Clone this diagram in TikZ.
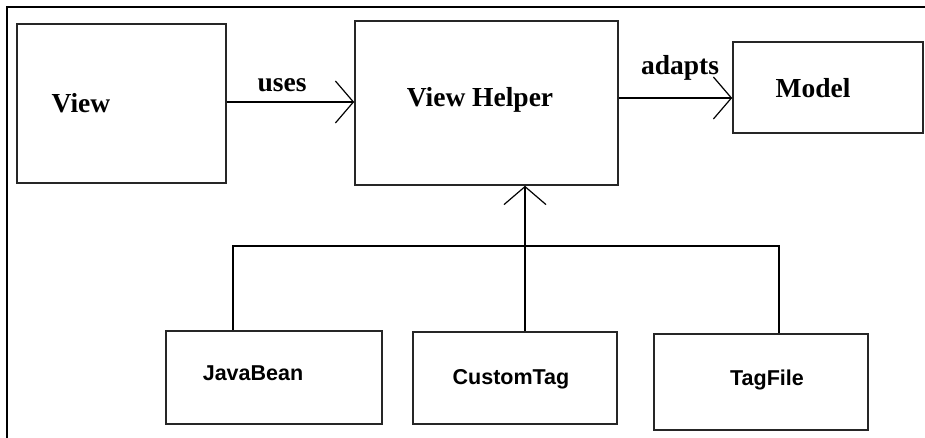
\documentclass[tikz,border=0pt]{standalone}
\usepackage{fontspec}
\setmainfont{Liberation Serif}
\newfontfamily\boxsans{Liberation Sans}
\usetikzlibrary{arrows.meta}
\begin{document}
\begin{tikzpicture}[x=1pt,y=-1pt,
  box/.style={draw=black!85,line width=1.6pt,rectangle,inner sep=0pt},
  toplbl/.style={anchor=base,inner sep=0pt,font=\fontsize{27.5}{30}\selectfont\bfseries},
  botlbl/.style={anchor=base,inner sep=0pt,font=\boxsans\fontsize{21.5}{24}\selectfont\bfseries},
  conn/.style={draw=black,line width=1.4pt},
  arr/.style={conn,-{Straight Barb[length=18pt,width=42pt,line width=1.2pt]}}]
\useasboundingbox (0,0) rectangle (925,438);
% outer frame (only left and top edges visible)
\draw[line width=2.4pt] (7,440) -- (7,7) -- (927,7);
% boxes
\node[box,minimum width=209pt,minimum height=159pt] (view) at (121.5,103.5) {};
\node[box,minimum width=263pt,minimum height=164pt] (helper) at (486.5,103) {};
\node[box,minimum width=190pt,minimum height=91pt] (model) at (828,87.5) {};
\node[box,minimum width=216pt,minimum height=93pt] (javabean) at (274,377.5) {};
\node[box,minimum width=204pt,minimum height=92pt] (customtag) at (515,378) {};
\node[box,minimum width=214pt,minimum height=96pt] (tagfile) at (761,382) {};
% texts
\node[toplbl] (tview) at (81,113) {View};
\node[toplbl] (thelper) at (480,107) {View Helper};
\node[toplbl] (tmodel) at (813,98) {Model};
\node[toplbl] (tuses) at (282,92) {uses};
\node[toplbl] (tadapts) at (680,75) {adapts};
\node[botlbl] (tjava) at (253,380) {JavaBean};
\node[botlbl] (tcustom) at (511,384) {CustomTag};
\node[botlbl] (ttag) at (767,385) {TagFile};
% connectors
\draw[arr] (view.east |- 0,102) -- (helper.west |- 0,102);
\draw[arr] (helper.east |- 0,98) -- (model.west |- 0,98);
\draw[arr] (customtag.north -| 525,0) -- (helper.south -| 525,0);
\coordinate (busl) at (233,246);
\coordinate (busr) at (779,246);
\draw[conn] (javabean.north -| busl) -- (busl) -- (busr) -- (tagfile.north -| busr);
\end{tikzpicture}
\end{document}
